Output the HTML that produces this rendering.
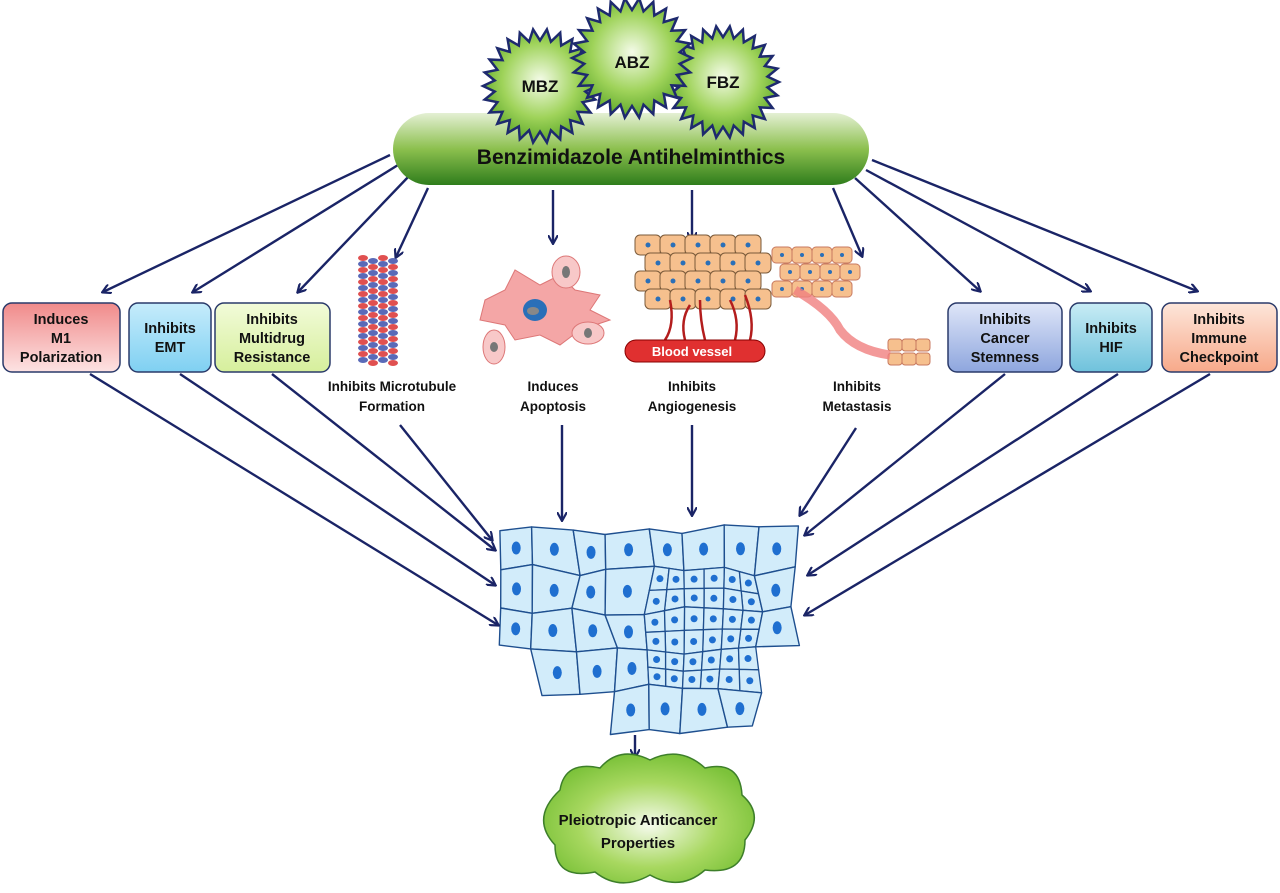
<!DOCTYPE html>
<html><head><meta charset="utf-8"><style>
html,body{margin:0;padding:0;background:#fff;}
svg{display:block;font-family:"Liberation Sans",Arial,sans-serif;}
</style></head><body>
<svg id="s" width="1280" height="893" viewBox="0 0 1280 893" xmlns="http://www.w3.org/2000/svg">
<defs>
<marker id="ah" markerWidth="10" markerHeight="10" refX="8" refY="5" orient="auto" markerUnits="userSpaceOnUse"><path d="M0,0 L9,5 L0,10" fill="none" stroke="#1a2466" stroke-width="2.2"/></marker>
<radialGradient id="gs" cx="0.5" cy="0.45" r="0.55"><stop offset="0" stop-color="#f4fbe8"/><stop offset="0.6" stop-color="#9fd35a"/><stop offset="1" stop-color="#5ea82a"/></radialGradient>
<linearGradient id="ge" x1="0" y1="0" x2="0" y2="1"><stop offset="0" stop-color="#e4f0d4"/><stop offset="0.5" stop-color="#8cc04e"/><stop offset="1" stop-color="#2f7d1c"/></linearGradient>
<radialGradient id="gc" cx="0.5" cy="0.55" r="0.55"><stop offset="0" stop-color="#f6fbee"/><stop offset="0.6" stop-color="#a8d860"/><stop offset="1" stop-color="#7cc23a"/></radialGradient>
<linearGradient id="b1" x1="0" y1="0" x2="0" y2="1"><stop offset="0" stop-color="#f08a8a"/><stop offset="1" stop-color="#fde3e3"/></linearGradient>
<linearGradient id="b2" x1="0" y1="0" x2="0" y2="1"><stop offset="0" stop-color="#c6ecfb"/><stop offset="1" stop-color="#7fd0f2"/></linearGradient>
<linearGradient id="b3" x1="0" y1="0" x2="0" y2="1"><stop offset="0" stop-color="#f2fbd9"/><stop offset="1" stop-color="#d6ef9c"/></linearGradient>
<linearGradient id="b4" x1="0" y1="0" x2="0" y2="1"><stop offset="0" stop-color="#dfe6f8"/><stop offset="1" stop-color="#8ea6de"/></linearGradient>
<linearGradient id="b5" x1="0" y1="0" x2="0" y2="1"><stop offset="0" stop-color="#c8ecf5"/><stop offset="1" stop-color="#6fc2dc"/></linearGradient>
<linearGradient id="b6" x1="0" y1="0" x2="0" y2="1"><stop offset="0" stop-color="#fde6da"/><stop offset="1" stop-color="#f7a98a"/></linearGradient>
</defs>

<g id="cells"></g>

<g stroke="#1a2466" stroke-width="2.4" fill="none" marker-end="url(#ah)">
<line x1="390" y1="155" x2="103" y2="292"/>
<line x1="398" y1="165" x2="193" y2="292"/>
<line x1="410" y1="175" x2="298" y2="292"/>
<line x1="428" y1="188" x2="396" y2="257"/>
<line x1="553" y1="190" x2="553" y2="243"/>
<line x1="692" y1="190" x2="692" y2="240"/>
<line x1="833" y1="188" x2="862" y2="256"/>
<line x1="855" y1="178" x2="980" y2="291"/>
<line x1="866" y1="170" x2="1090" y2="291"/>
<line x1="872" y1="160" x2="1197" y2="291"/>
<line x1="90" y1="374" x2="498" y2="625"/>
<line x1="180" y1="374" x2="495" y2="585"/>
<line x1="272" y1="374" x2="495" y2="550"/>
<line x1="400" y1="425" x2="492" y2="540"/>
<line x1="562" y1="425" x2="562" y2="520"/>
<line x1="692" y1="425" x2="692" y2="515"/>
<line x1="856" y1="428" x2="800" y2="515"/>
<line x1="1005" y1="374" x2="805" y2="535"/>
<line x1="1118" y1="374" x2="808" y2="575"/>
<line x1="1210" y1="374" x2="805" y2="615"/>
<line x1="635" y1="735" x2="635" y2="757"/>
</g>

<rect x="393" y="113" width="476" height="72" rx="36" fill="url(#ge)"/>
<g id="stars"></g>
<text x="631" y="164" font-size="21" font-weight="bold" text-anchor="middle" fill="#111">Benzimidazole Antihelminthics</text>
<text x="540" y="92" font-size="17" font-weight="bold" text-anchor="middle" fill="#111">MBZ</text>
<text x="632" y="68" font-size="17" font-weight="bold" text-anchor="middle" fill="#111">ABZ</text>
<text x="723" y="88" font-size="17" font-weight="bold" text-anchor="middle" fill="#111">FBZ</text>

<g stroke="#2a3a6a" stroke-width="1.5">
<rect x="3" y="303" width="117" height="69" rx="9" fill="url(#b1)"/>
<rect x="129" y="303" width="82" height="69" rx="9" fill="url(#b2)"/>
<rect x="215" y="303" width="115" height="69" rx="9" fill="url(#b3)"/>
<rect x="948" y="303" width="114" height="69" rx="9" fill="url(#b4)"/>
<rect x="1070" y="303" width="82" height="69" rx="9" fill="url(#b5)"/>
<rect x="1162" y="303" width="115" height="69" rx="9" fill="url(#b6)"/>
</g>
<g font-size="14.5" font-weight="bold" text-anchor="middle" fill="#111">
<text x="61" y="324">Induces</text><text x="61" y="343">M1</text><text x="61" y="362">Polarization</text>
<text x="170" y="333">Inhibits</text><text x="170" y="352">EMT</text>
<text x="272" y="324">Inhibits</text><text x="272" y="343">Multidrug</text><text x="272" y="362">Resistance</text>
<text x="1005" y="324">Inhibits</text><text x="1005" y="343">Cancer</text><text x="1005" y="362">Stemness</text>
<text x="1111" y="333">Inhibits</text><text x="1111" y="352">HIF</text>
<text x="1219" y="324">Inhibits</text><text x="1219" y="343">Immune</text><text x="1219" y="362">Checkpoint</text>
</g>
<g font-size="13.5" font-weight="bold" text-anchor="middle" fill="#111">
<text x="392" y="391">Inhibits Microtubule</text><text x="392" y="411">Formation</text>
<text x="553" y="391">Induces</text><text x="553" y="411">Apoptosis</text>
<text x="692" y="391">Inhibits</text><text x="692" y="411">Angiogenesis</text>
<text x="857" y="391">Inhibits</text><text x="857" y="411">Metastasis</text>
</g>

<g id="mt"></g>
<path d="M485,300 L505,290 L515,270 L540,285 L560,275 L575,290 L600,295 L590,310 L610,320 L580,330 L560,345 L540,335 L515,340 L505,325 L480,320 Z" fill="#f4a6a6" stroke="#d77" stroke-width="1"/>
<ellipse cx="535" cy="310" rx="12" ry="11" fill="#2a6fb8"/><ellipse cx="533" cy="311" rx="6" ry="4" fill="#888"/>
<ellipse cx="566" cy="272" rx="14" ry="16" fill="#f8c8c8" stroke="#d77"/><ellipse cx="566" cy="272" rx="4" ry="6" fill="#777"/>
<ellipse cx="494" cy="347" rx="11" ry="17" fill="#f8c8c8" stroke="#d77"/><ellipse cx="494" cy="347" rx="4" ry="5" fill="#777"/>
<ellipse cx="588" cy="333" rx="16" ry="11" fill="#f8c8c8" stroke="#d77"/><ellipse cx="588" cy="333" rx="4" ry="5" fill="#777"/>
<g id="ang"></g>
<g stroke="#b31d1d" stroke-width="2.5" fill="none">
<path d="M670,300 Q675,325 665,340"/><path d="M700,300 Q700,320 705,340"/><path d="M730,300 Q740,320 735,340"/><path d="M690,305 Q680,320 685,340"/><path d="M745,295 Q755,320 750,340"/>
</g>
<rect x="625" y="340" width="140" height="22" rx="11" fill="#e03030" stroke="#800"/>
<text x="692" y="356" font-size="13" font-weight="bold" fill="#fff" text-anchor="middle">Blood vessel</text>
<g id="met"></g>
<path d="M795,290 Q830,310 840,330 Q855,350 890,355" stroke="#f08080" stroke-width="9" fill="none" opacity="0.8"/>
<path d="M560,790 Q565,760 600,768 Q620,745 650,760 Q680,745 705,768 Q740,760 742,795 Q765,815 745,840 Q745,875 705,870 Q680,892 650,875 Q620,892 595,872 Q555,880 555,845 Q530,818 560,790 Z" fill="url(#gc)" stroke="#3d7f2a" stroke-width="1.5"/>
<text x="638" y="825" font-size="15" font-weight="bold" text-anchor="middle" fill="#111">Pleiotropic Anticancer</text>
<text x="638" y="848" font-size="15" font-weight="bold" text-anchor="middle" fill="#111">Properties</text>
</svg>
<script>
var NS="http://www.w3.org/2000/svg";
function el(p,t,a){var e=document.createElementNS(NS,t);for(var k in a)e.setAttribute(k,a[k]);p.appendChild(e);return e;}
var st=document.getElementById("stars");
[[540,86,57],[723,82,56],[632,58,60]].forEach(function(s){var n=26,pts=[];for(var i=0;i<n*2;i++){var r=i%2?s[2]*0.8:s[2];var a=Math.PI*i/n;pts.push((s[0]+r*Math.cos(a)).toFixed(1)+","+(s[1]+r*Math.sin(a)).toFixed(1));}
el(st,"polygon",{points:pts.join(" "),fill:"url(#gs)",stroke:"#1e2a6e","stroke-width":2.5});});
var mt=document.getElementById("mt");
for(var y=258;y<365;y+=6){for(var j=0;j<4;j++){el(mt,"ellipse",{cx:363+j*10,cy:y+(j%2)*3,rx:5,ry:3,fill:(j+Math.floor(y/6))%2?"#e05050":"#5a6ab8"});}}
var ang=document.getElementById("ang");
for(var r=0;r<4;r++)for(var c=0;c<5;c++){var x=648+c*25+(r%2)*10,y=245+r*18;el(ang,"rect",{x:x-13,y:y-10,width:26,height:20,rx:5,fill:"#f6c08e",stroke:"#7a5a3a"});el(ang,"circle",{cx:x,cy:y,r:2.5,fill:"#2a6fb8"});}
var met=document.getElementById("met");
for(var r=0;r<3;r++)for(var c=0;c<4;c++){var x=782+c*20+(r%2)*8,y=255+r*17;el(met,"rect",{x:x-10,y:y-8,width:20,height:16,rx:4,fill:"#f6c08e",stroke:"#c87a60"});el(met,"circle",{cx:x,cy:y,r:2,fill:"#2a6fb8"});}
for(var r=0;r<2;r++)for(var c=0;c<3;c++){var x=895+c*14,y=345+r*14;el(met,"rect",{x:x-7,y:y-6,width:14,height:12,rx:3,fill:"#f6c08e",stroke:"#c87a60"});}
var cl=document.getElementById("cells");
var seed=7;function rnd(){seed=(seed*9301+49297)%233280;return seed/233280;}
var x0=500,y0=530,cw=37,ch=40,nx=8,ny=5,V=[];
for(var j=0;j<=ny;j++){V[j]=[];for(var i=0;i<=nx;i++){V[j][i]=[x0+i*cw+(rnd()-0.5)*14,y0+j*ch+(rnd()-0.5)*12];}}
function inMask(cx,cy){
 if(cy<610) return cx>500&&cx<800;
 if(cy<650) return cx>510&&cx<790;
 if(cy<690) return cx>540&&cx<775;
 return cx>615&&cx<765;}
for(var j=0;j<ny;j++)for(var i=0;i<nx;i++){
 var a=V[j][i],b=V[j][i+1],c=V[j+1][i+1],d=V[j+1][i];
 var cx=(a[0]+b[0]+c[0]+d[0])/4,cy=(a[1]+b[1]+c[1]+d[1])/4;
 if(!inMask(cx,cy))continue;
 var small=(cx>640&&cx<760&&cy>575&&cy<690);
 if(small){
  var m=[(a[0]+b[0])/2,(a[1]+b[1])/2],n=[(b[0]+c[0])/2,(b[1]+c[1])/2],o=[(c[0]+d[0])/2,(c[1]+d[1])/2],p=[(d[0]+a[0])/2,(d[1]+a[1])/2],q=[cx,cy];
  [[a,m,q,p],[m,b,n,q],[q,n,c,o],[p,q,o,d]].forEach(function(Q){
   el(cl,"polygon",{points:Q.map(function(v){return v[0].toFixed(1)+","+v[1].toFixed(1)}).join(" "),fill:"#d2ecfa",stroke:"#1e4f8f","stroke-width":1.3,"stroke-linejoin":"round"});
   var qx=(Q[0][0]+Q[1][0]+Q[2][0]+Q[3][0])/4,qy=(Q[0][1]+Q[1][1]+Q[2][1]+Q[3][1])/4;
   el(cl,"circle",{cx:qx,cy:qy,r:3.5,fill:"#1f6fd0"});});
 } else {
  el(cl,"polygon",{points:[a,b,c,d].map(function(v){return v[0].toFixed(1)+","+v[1].toFixed(1)}).join(" "),fill:"#d2ecfa",stroke:"#1e4f8f","stroke-width":1.4,"stroke-linejoin":"round"});
  el(cl,"ellipse",{cx:cx,cy:cy,rx:4.5,ry:6.5,fill:"#1f6fd0"});
 }}
</script>
</body></html>
